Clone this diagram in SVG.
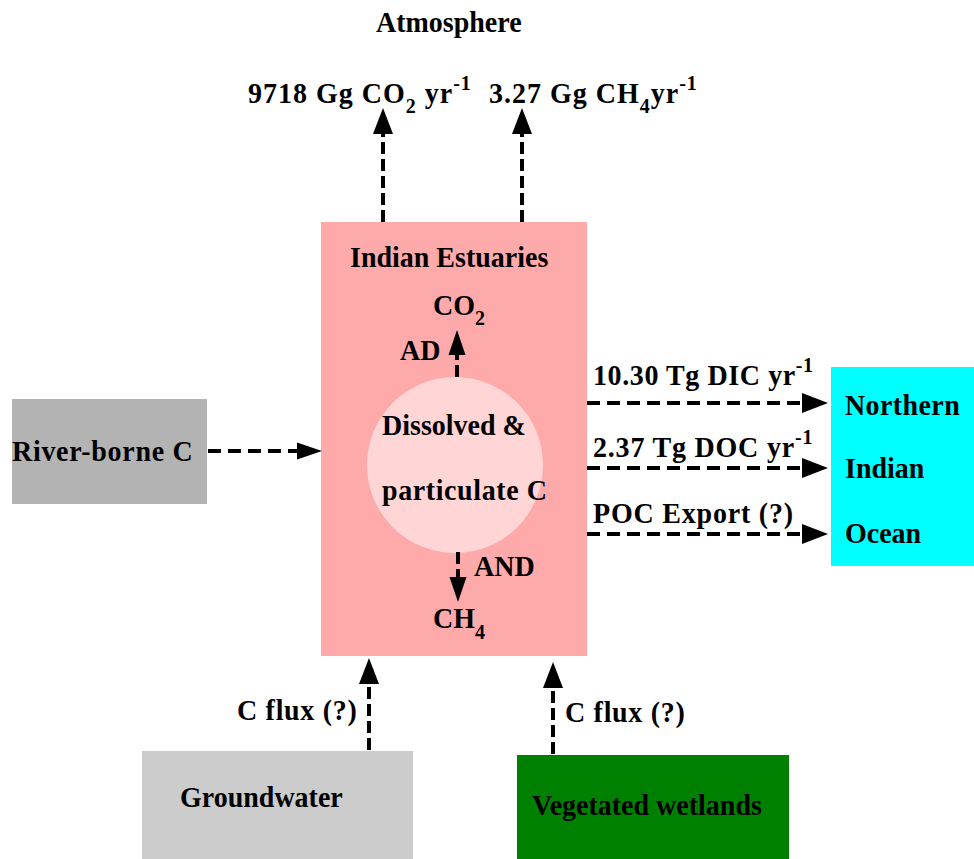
<svg xmlns="http://www.w3.org/2000/svg" width="974" height="859" viewBox="0 0 974 859">
<defs>
<style>
text{font-family:"Liberation Serif","Times New Roman",serif;font-weight:bold;font-size:28px;fill:#000}
.sub{font-size:20px}
.flow{fill:none;stroke:#000;stroke-width:4;stroke-dasharray:13 7}
.vflow{fill:none;stroke:#000;stroke-width:4;stroke-dasharray:12 5}
</style>
<marker id="ah" markerUnits="userSpaceOnUse" markerWidth="27" markerHeight="21" refX="0" refY="10" orient="auto" viewBox="0 0 27 21" overflow="visible">
<path d="M0,0 L26,10 L0,20 Z" fill="#000"/>
</marker>
<marker id="ahs" markerUnits="userSpaceOnUse" markerWidth="25" markerHeight="18" refX="0" refY="8.5" orient="auto" viewBox="0 0 25 18" overflow="visible">
<path d="M0,0 L25,8.5 L0,17 Z" fill="#000"/>
</marker>
</defs>
<rect width="974" height="859" fill="#fff"/>

<g id="atmosphere">
<text transform="translate(376,32) scale(1,1.07)">Atmosphere</text>
<text transform="translate(248,103) scale(1,1.07)" letter-spacing="1">9718 Gg CO<tspan class="sub" dy="9">2</tspan><tspan dy="-9"> yr</tspan><tspan class="sub" dy="-12">-1</tspan></text>
<text transform="translate(489,103) scale(1,1.07)" letter-spacing="1">3.27 Gg CH<tspan class="sub" dy="9">4</tspan><tspan dy="-9">yr</tspan><tspan class="sub" dy="-12">-1</tspan></text>
</g>

<g id="estuaries">
<rect x="321" y="222" width="266" height="434" fill="#ffaaaa"/>
<text transform="translate(350,267) scale(1,1.07)">Indian Estuaries</text>
</g>

<g id="carbon-pool">
<circle cx="455" cy="465" r="88" fill="#ffd5d5"/>
<text transform="translate(382,435) scale(1,1.07)">Dissolved &amp;</text>
<text transform="translate(382,500) scale(1,1.07)" letter-spacing="0.6">particulate C</text>
</g>

<g id="co2">
<text transform="translate(433,315) scale(1,1.07)">CO<tspan class="sub" dy="9">2</tspan></text>
<text transform="translate(400,360) scale(1,1.07)">AD</text>
</g>

<g id="ch4">
<text transform="translate(474,576) scale(1,1.07)">AND</text>
<text transform="translate(433,628) scale(1,1.07)">CH<tspan class="sub" dy="10">4</tspan></text>
</g>

<g id="river">
<rect x="12" y="399" width="195" height="105" fill="#b3b3b3"/>
<text transform="translate(12,461) scale(1,1.07)" letter-spacing="0.7">River-borne C</text>
</g>

<g id="ocean">
<rect x="831" y="367" width="143" height="199" fill="#00ffff"/>
<text transform="translate(845,415) scale(1,1.07)" letter-spacing="0.4">Northern</text>
<text transform="translate(845,478) scale(1,1.07)">Indian</text>
<text transform="translate(845,543) scale(1,1.07)">Ocean</text>
</g>

<g id="groundwater">
<rect x="142" y="751" width="271" height="108" fill="#cccccc"/>
<text transform="translate(180,807) scale(1,1.07)">Groundwater</text>
</g>

<g id="wetlands">
<rect x="517" y="755" width="272" height="104" fill="#008000"/>
<text transform="translate(532,815) scale(1,1.07)">Vegetated wetlands</text>
</g>

<g id="connectors">
<line class="vflow" x1="383" y1="222" x2="383" y2="134" marker-end="url(#ah)"/>
<line class="vflow" x1="522" y1="222" x2="522" y2="134" marker-end="url(#ah)"/>
<line class="vflow" x1="457" y1="377" x2="457" y2="355" marker-end="url(#ahs)"/>
<line class="vflow" x1="458" y1="552" x2="458" y2="577" marker-end="url(#ahs)"/>
<line class="flow" x1="208" y1="451" x2="297" y2="451" marker-end="url(#ahs)"/>
<line class="flow" x1="587" y1="403" x2="802" y2="403" marker-end="url(#ah)"/>
<line class="flow" x1="587" y1="468" x2="802" y2="468" marker-end="url(#ah)"/>
<line class="flow" x1="587" y1="534" x2="802" y2="534" marker-end="url(#ah)"/>
<line class="vflow" x1="369" y1="750" x2="369" y2="684" marker-end="url(#ah)"/>
<line class="vflow" x1="553" y1="754" x2="553" y2="688" marker-end="url(#ah)"/>
<text transform="translate(593,385) scale(1,1.07)" letter-spacing="0.6">10.30 Tg DIC yr<tspan class="sub" dy="-12">-1</tspan></text>
<text transform="translate(593,457) scale(1,1.07)" letter-spacing="0.8">2.37 Tg DOC yr<tspan class="sub" dy="-12">-1</tspan></text>
<text transform="translate(593,523) scale(1,1.07)" letter-spacing="0.8">POC Export (?)</text>
<text transform="translate(237,720) scale(1,1.07)" letter-spacing="0.7">C flux (?)</text>
<text transform="translate(565,722) scale(1,1.07)" letter-spacing="0.7">C flux (?)</text>
</g>
</svg>
